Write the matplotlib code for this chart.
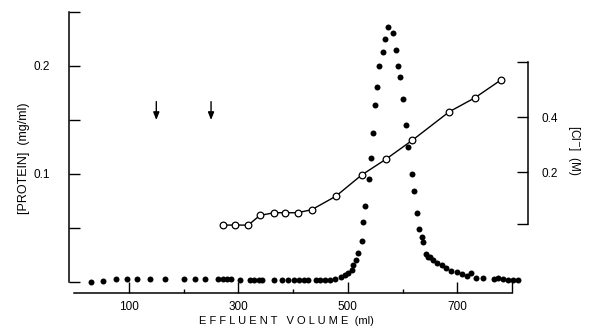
import numpy as np
import matplotlib
matplotlib.use("Agg")
import matplotlib.pyplot as plt

# protein elution profile (filled dots)
volume_protein = [30, 52, 76, 97, 114, 138, 165, 200, 220, 239,
                  263, 271, 279, 287, 303, 321, 329, 337, 343, 365,
                  379, 391, 402, 411, 420, 428, 441, 449, 458, 467,
                  476, 487, 495, 501, 507, 510, 515, 519, 525, 528,
                  532, 539, 542, 545, 549, 554, 557, 564, 568, 573,
                  583, 587, 591, 596, 600, 606, 610, 618, 621, 627,
                  630, 635, 638, 643, 647, 650, 656, 663, 671, 680,
                  689, 699, 708, 717, 724, 734, 747, 766, 775, 784,
                  793, 802, 810]
protein = [0.0003, 0.001, 0.003, 0.003, 0.003, 0.003, 0.003, 0.003, 0.003, 0.003,
           0.003, 0.003, 0.003, 0.003, 0.002, 0.002, 0.002, 0.002, 0.002, 0.002,
           0.002, 0.002, 0.002, 0.002, 0.002, 0.002, 0.002, 0.002, 0.002, 0.002,
           0.0025, 0.005, 0.0065, 0.008, 0.011, 0.016, 0.020, 0.027, 0.038, 0.056,
           0.070, 0.095, 0.115, 0.138, 0.164, 0.181, 0.200, 0.213, 0.225, 0.236,
           0.231, 0.215, 0.200, 0.190, 0.169, 0.145, 0.125, 0.100, 0.084, 0.064,
           0.049, 0.042, 0.037, 0.026, 0.023, 0.023, 0.020, 0.018, 0.016, 0.013,
           0.010, 0.009, 0.007, 0.0056, 0.008, 0.0034, 0.0034, 0.003, 0.004, 0.003,
           0.002, 0.002, 0.002]

# chloride gradient (open circles)
volume_cl = [271, 294, 318, 339, 365, 386, 408, 434, 478, 525, 569, 618, 685, 732, 779]
chloride = [0.007, 0.007, 0.007, 0.042, 0.052, 0.052, 0.052, 0.063, 0.112,
            0.189, 0.246, 0.316, 0.419, 0.470, 0.534]

# sample application marks
arrow_volumes = [150, 250]

x_major = [100, 300, 500, 700, 800]
x_major_labels = ["100", "300", "500", "700", ""]
x_minor = [200, 400, 600]
protein_ticks = [0, 0.05, 0.1, 0.15, 0.2, 0.25]
protein_labels = ["", "", "0.1", "", "0.2", ""]
cl_ticks = [0.01, 0.2, 0.4, 0.6]
cl_labels = ["", "0.2", "0.4", ""]

plt.rcParams['font.family'] = ['Liberation Sans', 'DejaVu Sans']

fig = plt.figure(figsize=(5.89, 3.35), dpi=100, facecolor='w')
ax = fig.add_axes([69/589, 42/335, 459/589, 281/335])

ax.plot(volume_protein, protein, 'o', color='black', markersize=4.3,
        markeredgewidth=0, clip_on=False)
ax.set_xlim(-9.5, 829)
ax.set_ylim(-0.0102, 0.25)

for v in arrow_volumes:
    ax.annotate('', xy=(v, 0.150), xytext=(v, 0.167),
                arrowprops=dict(arrowstyle='-|>,head_length=0.45,head_width=0.18',
                                color='black', lw=1.0, shrinkA=0, shrinkB=0))

# right axis: chloride
ax2 = ax.twinx()
ax2.plot(volume_cl, chloride, '-', color='black', lw=1.0, zorder=2)
ax2.plot(volume_cl, chloride, 'o', markerfacecolor='white', markeredgecolor='black',
         markersize=4.8, markeredgewidth=0.9, zorder=3)
ax2.set_ylim(-0.24, 0.782)

for a in (ax, ax2):
    a.spines['top'].set_visible(False)
    a.patch.set_visible(False)
ax.spines['right'].set_visible(False)
ax2.spines['left'].set_visible(False)
ax2.spines['bottom'].set_visible(False)

ax.spines['left'].set_bounds(0, 0.25)
ax.spines['bottom'].set_bounds(0, 800)
ax2.spines['right'].set_bounds(0.01, 0.6)
for s in (ax.spines['left'], ax.spines['bottom'], ax2.spines['right']):
    s.set_linewidth(1.1)

ax.set_xticks(x_major)
ax.set_xticklabels(x_major_labels)
ax.set_xticks(x_minor, minor=True)
ax.tick_params(axis='x', which='major', direction='in', length=8, width=1,
               pad=6, labelsize=8.5)
ax.tick_params(axis='x', which='minor', direction='in', length=3, width=1)

ax.set_yticks(protein_ticks)
ax.set_yticklabels(protein_labels)
ax.tick_params(axis='y', direction='in', length=8, width=1, pad=14, labelsize=8.5)

ax2.set_yticks(cl_ticks)
ax2.set_yticklabels(cl_labels)
ax2.tick_params(axis='y', direction='in', length=8, width=1, pad=10, labelsize=8.5)

fig.text(286/589, 1 - 321/335, 'E F F L U E N T   V O L U M E  (ml)',
         ha='center', va='center', fontsize=8)
fig.text(24/589, 1 - 158/335, '[PROTEIN]  (mg/ml)', rotation=90,
         ha='center', va='center', fontsize=9)
fig.text(574/589, 1 - 150/335, r'[Cl$^{-}$]  (M)', rotation=270,
         ha='center', va='center', fontsize=8.5)

fig.savefig('out.png', dpi=100)
